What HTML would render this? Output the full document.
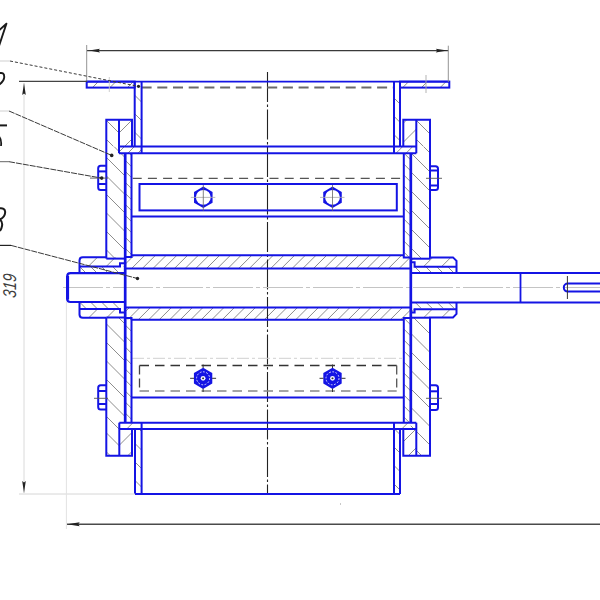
<!DOCTYPE html>
<html><head><meta charset="utf-8"><style>html,body{margin:0;padding:0;background:#fff;width:600px;height:600px;overflow:hidden}svg{display:block}</style></head>
<body><svg width="600" height="600" viewBox="0 0 600 600">
<defs><clipPath id="c1"><rect x="86.7" y="81.6" width="47.999999999999986" height="6.0"/></clipPath><clipPath id="c2"><rect x="400" y="81.6" width="49.30000000000001" height="6.0"/></clipPath><clipPath id="c3"><rect x="134.7" y="87.6" width="6.900000000000006" height="58.900000000000006"/></clipPath><clipPath id="c4"><rect x="394" y="87.6" width="6" height="58.80000000000001"/></clipPath><clipPath id="c5"><rect x="106.3" y="119.8" width="12.700000000000003" height="26.700000000000003"/></clipPath><clipPath id="c6"><rect x="119" y="119.8" width="13" height="26.700000000000003"/></clipPath><clipPath id="c7"><rect x="403.3" y="119.7" width="13.0" height="26.700000000000003"/></clipPath><clipPath id="c8"><rect x="416.3" y="119.7" width="13.699999999999989" height="26.700000000000003"/></clipPath><clipPath id="c9"><rect x="119" y="146.5" width="23" height="6.800000000000011"/></clipPath><clipPath id="c10"><rect x="394" y="146.5" width="22.30000000000001" height="6.800000000000011"/></clipPath><clipPath id="c11"><rect x="106.3" y="146.5" width="18.900000000000006" height="112.10000000000002"/></clipPath><clipPath id="c12"><rect x="125.2" y="153.3" width="6.299999999999997" height="103.69999999999999"/></clipPath><clipPath id="c13"><rect x="403.8" y="153" width="7.0" height="104.60000000000002"/></clipPath><clipPath id="c14"><rect x="416.3" y="146.4" width="13.699999999999989" height="6.900000000000006"/></clipPath><clipPath id="c15"><rect x="410.8" y="153.3" width="19.19999999999999" height="105.39999999999998"/></clipPath><clipPath id="c16"><rect x="126" y="255.3" width="284.8" height="13.099999999999966"/></clipPath><clipPath id="c17"><rect x="126" y="307.4" width="284.8" height="12.300000000000011"/></clipPath><clipPath id="c18"><rect x="79.5" y="257.2" width="45.7" height="9.300000000000011"/></clipPath><clipPath id="c19"><rect x="79.5" y="266.5" width="45.7" height="6.699999999999989"/></clipPath><clipPath id="c20"><rect x="79.5" y="302" width="45.7" height="7"/></clipPath><clipPath id="c21"><rect x="79.5" y="309" width="45.7" height="8.699999999999989"/></clipPath><clipPath id="c22"><rect x="410.8" y="257.4" width="45.69999999999999" height="9.400000000000034"/></clipPath><clipPath id="c23"><rect x="410.8" y="266.8" width="45.69999999999999" height="6.199999999999989"/></clipPath><clipPath id="c24"><rect x="410.8" y="302" width="45.69999999999999" height="6.600000000000023"/></clipPath><clipPath id="c25"><rect x="410.8" y="308.6" width="45.69999999999999" height="9.099999999999966"/></clipPath><clipPath id="c26"><rect x="106.3" y="317.5" width="18.900000000000006" height="111.5"/></clipPath><clipPath id="c27"><rect x="125.2" y="318" width="6.299999999999997" height="104.69999999999999"/></clipPath><clipPath id="c28"><rect x="403.8" y="318" width="7.0" height="104.69999999999999"/></clipPath><clipPath id="c29"><rect x="410.8" y="317.7" width="19.19999999999999" height="111.30000000000001"/></clipPath><clipPath id="c30"><rect x="119" y="422.7" width="23" height="6.300000000000011"/></clipPath><clipPath id="c31"><rect x="394" y="422.7" width="22.30000000000001" height="6.300000000000011"/></clipPath><clipPath id="c32"><rect x="106.3" y="429" width="13.0" height="26.69999999999999"/></clipPath><clipPath id="c33"><rect x="119.3" y="429" width="12.700000000000003" height="26.69999999999999"/></clipPath><clipPath id="c34"><rect x="403.3" y="429" width="13.0" height="26.69999999999999"/></clipPath><clipPath id="c35"><rect x="416.3" y="429" width="13.699999999999989" height="26.69999999999999"/></clipPath><clipPath id="c36"><rect x="135" y="429" width="6.599999999999994" height="65"/></clipPath><clipPath id="c37"><rect x="394" y="429" width="6" height="65"/></clipPath></defs>
<rect width="600" height="600" fill="#fff"/>
<path clip-path="url(#c1)" d="M74.90,87.6L80.90,81.6M92.40,87.6L98.40,81.6M109.90,87.6L115.90,81.6M127.40,87.6L133.40,81.6" stroke="#707070" stroke-width="0.8" fill="none"/>
<path clip-path="url(#c2)" d="M384.00,87.6L390.00,81.6M402.70,87.6L408.70,81.6M421.40,87.6L427.40,81.6M440.10,87.6L446.10,81.6" stroke="#707070" stroke-width="0.8" fill="none"/>
<path clip-path="url(#c3)" d="M71.60,87.6L130.50,146.5M90.10,87.6L149.00,146.5M108.60,87.6L167.50,146.5M127.10,87.6L186.00,146.5M145.60,87.6L204.50,146.5M164.10,87.6L223.00,146.5M182.60,87.6L241.50,146.5" stroke="#707070" stroke-width="0.8" fill="none"/>
<path clip-path="url(#c4)" d="M328.70,87.6L387.50,146.4M347.00,87.6L405.80,146.4M365.30,87.6L424.10,146.4M383.60,87.6L442.40,146.4M401.90,87.6L460.70,146.4M420.20,87.6L479.00,146.4M438.50,87.6L497.30,146.4M456.80,87.6L515.60,146.4" stroke="#707070" stroke-width="0.8" fill="none"/>
<path clip-path="url(#c5)" d="M67.80,119.8L94.50,146.5M86.80,119.8L113.50,146.5M105.80,119.8L132.50,146.5M124.80,119.8L151.50,146.5M143.80,119.8L170.50,146.5" stroke="#707070" stroke-width="0.8" fill="none"/>
<path clip-path="url(#c6)" d="M86.50,146.5L113.20,119.8M105.50,146.5L132.20,119.8M124.50,146.5L151.20,119.8M143.50,146.5L170.20,119.8" stroke="#707070" stroke-width="0.8" fill="none"/>
<path clip-path="url(#c7)" d="M361.10,146.4L387.80,119.7M380.10,146.4L406.80,119.7M399.10,146.4L425.80,119.7M418.10,146.4L444.80,119.7M437.10,146.4L463.80,119.7" stroke="#707070" stroke-width="0.8" fill="none"/>
<path clip-path="url(#c8)" d="M377.70,119.7L404.40,146.4M396.70,119.7L423.40,146.4M415.70,119.7L442.40,146.4M434.70,119.7L461.40,146.4M453.70,119.7L480.40,146.4" stroke="#707070" stroke-width="0.8" fill="none"/>
<path clip-path="url(#c9)" d="M107.70,153.3L114.50,146.5M117.70,153.3L124.50,146.5M127.70,153.3L134.50,146.5M137.70,153.3L144.50,146.5M147.70,153.3L154.50,146.5" stroke="#707070" stroke-width="0.8" fill="none"/>
<path clip-path="url(#c10)" d="M385.95,153.3L392.75,146.5M395.95,153.3L402.75,146.5M405.95,153.3L412.75,146.5M415.95,153.3L422.75,146.5" stroke="#707070" stroke-width="0.8" fill="none"/>
<path clip-path="url(#c11)" d="M-15.50,146.5L96.60,258.6M3.00,146.5L115.10,258.6M21.50,146.5L133.60,258.6M40.00,146.5L152.10,258.6M58.50,146.5L170.60,258.6M77.00,146.5L189.10,258.6M95.50,146.5L207.60,258.6M114.00,146.5L226.10,258.6M132.50,146.5L244.60,258.6M151.00,146.5L263.10,258.6M169.50,146.5L281.60,258.6M188.00,146.5L300.10,258.6M206.50,146.5L318.60,258.6M225.00,146.5L337.10,258.6" stroke="#707070" stroke-width="0.8" fill="none"/>
<path clip-path="url(#c12)" d="M19.20,153.3L122.90,257M30.20,153.3L133.90,257M41.20,153.3L144.90,257M52.20,153.3L155.90,257M63.20,153.3L166.90,257M74.20,153.3L177.90,257M85.20,153.3L188.90,257M96.20,153.3L199.90,257M107.20,153.3L210.90,257M118.20,153.3L221.90,257M129.20,153.3L232.90,257M140.20,153.3L243.90,257M151.20,153.3L254.90,257M162.20,153.3L265.90,257M173.20,153.3L276.90,257M184.20,153.3L287.90,257M195.20,153.3L298.90,257M206.20,153.3L309.90,257M217.20,153.3L320.90,257M228.20,153.3L331.90,257" stroke="#707070" stroke-width="0.8" fill="none"/>
<path clip-path="url(#c13)" d="M293.80,153L398.40,257.6M304.80,153L409.40,257.6M315.80,153L420.40,257.6M326.80,153L431.40,257.6M337.80,153L442.40,257.6M348.80,153L453.40,257.6M359.80,153L464.40,257.6M370.80,153L475.40,257.6M381.80,153L486.40,257.6M392.80,153L497.40,257.6M403.80,153L508.40,257.6M414.80,153L519.40,257.6M425.80,153L530.40,257.6M436.80,153L541.40,257.6M447.80,153L552.40,257.6M458.80,153L563.40,257.6M469.80,153L574.40,257.6M480.80,153L585.40,257.6M491.80,153L596.40,257.6M502.80,153L607.40,257.6M513.80,153L618.40,257.6" stroke="#707070" stroke-width="0.8" fill="none"/>
<path clip-path="url(#c14)" d="M404.40,146.4L411.30,153.3M423.40,146.4L430.30,153.3" stroke="#707070" stroke-width="0.8" fill="none"/>
<path clip-path="url(#c15)" d="M297.30,153.3L402.70,258.7M316.30,153.3L421.70,258.7M335.30,153.3L440.70,258.7M354.30,153.3L459.70,258.7M373.30,153.3L478.70,258.7M392.30,153.3L497.70,258.7M411.30,153.3L516.70,258.7M430.30,153.3L535.70,258.7M449.30,153.3L554.70,258.7M468.30,153.3L573.70,258.7M487.30,153.3L592.70,258.7M506.30,153.3L611.70,258.7M525.30,153.3L630.70,258.7" stroke="#707070" stroke-width="0.8" fill="none"/>
<path clip-path="url(#c16)" d="M110.30,268.4L123.40,255.3M121.00,268.4L134.10,255.3M131.70,268.4L144.80,255.3M142.40,268.4L155.50,255.3M153.10,268.4L166.20,255.3M163.80,268.4L176.90,255.3M174.50,268.4L187.60,255.3M185.20,268.4L198.30,255.3M195.90,268.4L209.00,255.3M206.60,268.4L219.70,255.3M217.30,268.4L230.40,255.3M228.00,268.4L241.10,255.3M238.70,268.4L251.80,255.3M249.40,268.4L262.50,255.3M260.10,268.4L273.20,255.3M270.80,268.4L283.90,255.3M281.50,268.4L294.60,255.3M292.20,268.4L305.30,255.3M302.90,268.4L316.00,255.3M313.60,268.4L326.70,255.3M324.30,268.4L337.40,255.3M335.00,268.4L348.10,255.3M345.70,268.4L358.80,255.3M356.40,268.4L369.50,255.3M367.10,268.4L380.20,255.3M377.80,268.4L390.90,255.3M388.50,268.4L401.60,255.3M399.20,268.4L412.30,255.3M409.90,268.4L423.00,255.3M420.60,268.4L433.70,255.3" stroke="#707070" stroke-width="0.8" fill="none"/>
<path clip-path="url(#c17)" d="M106.75,319.7L119.05,307.4M117.25,319.7L129.55,307.4M127.75,319.7L140.05,307.4M138.25,319.7L150.55,307.4M148.75,319.7L161.05,307.4M159.25,319.7L171.55,307.4M169.75,319.7L182.05,307.4M180.25,319.7L192.55,307.4M190.75,319.7L203.05,307.4M201.25,319.7L213.55,307.4M211.75,319.7L224.05,307.4M222.25,319.7L234.55,307.4M232.75,319.7L245.05,307.4M243.25,319.7L255.55,307.4M253.75,319.7L266.05,307.4M264.25,319.7L276.55,307.4M274.75,319.7L287.05,307.4M285.25,319.7L297.55,307.4M295.75,319.7L308.05,307.4M306.25,319.7L318.55,307.4M316.75,319.7L329.05,307.4M327.25,319.7L339.55,307.4M337.75,319.7L350.05,307.4M348.25,319.7L360.55,307.4M358.75,319.7L371.05,307.4M369.25,319.7L381.55,307.4M379.75,319.7L392.05,307.4M390.25,319.7L402.55,307.4M400.75,319.7L413.05,307.4M411.25,319.7L423.55,307.4M421.75,319.7L434.05,307.4" stroke="#707070" stroke-width="0.8" fill="none"/>
<path clip-path="url(#c18)" d="M70.20,266.5L79.50,257.2M88.20,266.5L97.50,257.2M106.20,266.5L115.50,257.2M124.20,266.5L133.50,257.2" stroke="#707070" stroke-width="0.8" fill="none"/>
<path clip-path="url(#c19)" d="M68.50,266.5L75.20,273.2M79.50,266.5L86.20,273.2M90.50,266.5L97.20,273.2M101.50,266.5L108.20,273.2M112.50,266.5L119.20,273.2M123.50,266.5L130.20,273.2" stroke="#707070" stroke-width="0.8" fill="none"/>
<path clip-path="url(#c20)" d="M68.50,302L75.50,309M79.50,302L86.50,309M90.50,302L97.50,309M101.50,302L108.50,309M112.50,302L119.50,309M123.50,302L130.50,309" stroke="#707070" stroke-width="0.8" fill="none"/>
<path clip-path="url(#c21)" d="M70.80,317.7L79.50,309M88.80,317.7L97.50,309M106.80,317.7L115.50,309M124.80,317.7L133.50,309" stroke="#707070" stroke-width="0.8" fill="none"/>
<path clip-path="url(#c22)" d="M387.40,266.8L396.80,257.4M405.40,266.8L414.80,257.4M423.40,266.8L432.80,257.4M441.40,266.8L450.80,257.4M459.40,266.8L468.80,257.4" stroke="#707070" stroke-width="0.8" fill="none"/>
<path clip-path="url(#c23)" d="M403.80,266.8L410.00,273M414.80,266.8L421.00,273M425.80,266.8L432.00,273M436.80,266.8L443.00,273M447.80,266.8L454.00,273M458.80,266.8L465.00,273" stroke="#707070" stroke-width="0.8" fill="none"/>
<path clip-path="url(#c24)" d="M403.80,302L410.40,308.6M414.80,302L421.40,308.6M425.80,302L432.40,308.6M436.80,302L443.40,308.6M447.80,302L454.40,308.6M458.80,302L465.40,308.6" stroke="#707070" stroke-width="0.8" fill="none"/>
<path clip-path="url(#c25)" d="M387.70,317.7L396.80,308.6M405.70,317.7L414.80,308.6M423.70,317.7L432.80,308.6M441.70,317.7L450.80,308.6M459.70,317.7L468.80,308.6" stroke="#707070" stroke-width="0.8" fill="none"/>
<path clip-path="url(#c26)" d="M-11.00,317.5L100.50,429M7.50,317.5L119.00,429M26.00,317.5L137.50,429M44.50,317.5L156.00,429M63.00,317.5L174.50,429M81.50,317.5L193.00,429M100.00,317.5L211.50,429M118.50,317.5L230.00,429M137.00,317.5L248.50,429M155.50,317.5L267.00,429M174.00,317.5L285.50,429M192.50,317.5L304.00,429M211.00,317.5L322.50,429M229.50,317.5L341.00,429" stroke="#707070" stroke-width="0.8" fill="none"/>
<path clip-path="url(#c27)" d="M19.20,318L123.90,422.7M30.20,318L134.90,422.7M41.20,318L145.90,422.7M52.20,318L156.90,422.7M63.20,318L167.90,422.7M74.20,318L178.90,422.7M85.20,318L189.90,422.7M96.20,318L200.90,422.7M107.20,318L211.90,422.7M118.20,318L222.90,422.7M129.20,318L233.90,422.7M140.20,318L244.90,422.7M151.20,318L255.90,422.7M162.20,318L266.90,422.7M173.20,318L277.90,422.7M184.20,318L288.90,422.7M195.20,318L299.90,422.7M206.20,318L310.90,422.7M217.20,318L321.90,422.7M228.20,318L332.90,422.7" stroke="#707070" stroke-width="0.8" fill="none"/>
<path clip-path="url(#c28)" d="M293.80,318L398.50,422.7M304.80,318L409.50,422.7M315.80,318L420.50,422.7M326.80,318L431.50,422.7M337.80,318L442.50,422.7M348.80,318L453.50,422.7M359.80,318L464.50,422.7M370.80,318L475.50,422.7M381.80,318L486.50,422.7M392.80,318L497.50,422.7M403.80,318L508.50,422.7M414.80,318L519.50,422.7M425.80,318L530.50,422.7M436.80,318L541.50,422.7M447.80,318L552.50,422.7M458.80,318L563.50,422.7M469.80,318L574.50,422.7M480.80,318L585.50,422.7M491.80,318L596.50,422.7M502.80,318L607.50,422.7M513.80,318L618.50,422.7" stroke="#707070" stroke-width="0.8" fill="none"/>
<path clip-path="url(#c29)" d="M284.20,317.7L395.50,429M302.70,317.7L414.00,429M321.20,317.7L432.50,429M339.70,317.7L451.00,429M358.20,317.7L469.50,429M376.70,317.7L488.00,429M395.20,317.7L506.50,429M413.70,317.7L525.00,429M432.20,317.7L543.50,429M450.70,317.7L562.00,429M469.20,317.7L580.50,429M487.70,317.7L599.00,429M506.20,317.7L617.50,429M524.70,317.7L636.00,429" stroke="#707070" stroke-width="0.8" fill="none"/>
<path clip-path="url(#c30)" d="M98.70,429L105.00,422.7M112.70,429L119.00,422.7M126.70,429L133.00,422.7M140.70,429L147.00,422.7" stroke="#707070" stroke-width="0.8" fill="none"/>
<path clip-path="url(#c31)" d="M373.70,429L380.00,422.7M387.70,429L394.00,422.7M401.70,429L408.00,422.7M415.70,429L422.00,422.7" stroke="#707070" stroke-width="0.8" fill="none"/>
<path clip-path="url(#c32)" d="M64.50,429L91.20,455.7M83.50,429L110.20,455.7M102.50,429L129.20,455.7M121.50,429L148.20,455.7M140.50,429L167.20,455.7" stroke="#707070" stroke-width="0.8" fill="none"/>
<path clip-path="url(#c33)" d="M89.80,455.7L116.50,429M108.80,455.7L135.50,429M127.80,455.7L154.50,429M146.80,455.7L173.50,429" stroke="#707070" stroke-width="0.8" fill="none"/>
<path clip-path="url(#c34)" d="M370.30,455.7L397.00,429M389.30,455.7L416.00,429M408.30,455.7L435.00,429M427.30,455.7L454.00,429" stroke="#707070" stroke-width="0.8" fill="none"/>
<path clip-path="url(#c35)" d="M376.00,429L402.70,455.7M395.00,429L421.70,455.7M414.00,429L440.70,455.7M433.00,429L459.70,455.7M452.00,429L478.70,455.7" stroke="#707070" stroke-width="0.8" fill="none"/>
<path clip-path="url(#c36)" d="M65.00,429L130.00,494M83.50,429L148.50,494M102.00,429L167.00,494M120.50,429L185.50,494M139.00,429L204.00,494M157.50,429L222.50,494M176.00,429L241.00,494M194.50,429L259.50,494" stroke="#707070" stroke-width="0.8" fill="none"/>
<path clip-path="url(#c37)" d="M320.50,429L385.50,494M339.00,429L404.00,494M357.50,429L422.50,494M376.00,429L441.00,494M394.50,429L459.50,494M413.00,429L478.00,494M431.50,429L496.50,494M450.00,429L515.00,494" stroke="#707070" stroke-width="0.8" fill="none"/>
<line x1="267.5" y1="72" x2="267.5" y2="494" stroke="#222" stroke-width="1.1" stroke-dasharray="30 2.5 2.5 2.5"/>
<line x1="63" y1="287.5" x2="600" y2="287.5" stroke="#c4c4c4" stroke-width="1" stroke-dasharray="40 3 4 3"/>
<line x1="132.7" y1="178.4" x2="403" y2="178.4" stroke="#555" stroke-width="1.3" stroke-dasharray="9 6.2"/>
<line x1="132" y1="358.3" x2="404" y2="358.3" stroke="#d0d0d0" stroke-width="1" stroke-dasharray="12 3 3 3"/>
<line x1="141.6" y1="87.5" x2="394" y2="87.5" stroke="#6a6a6a" stroke-width="1.8" stroke-dasharray="10 5.7"/>
<line x1="139.5" y1="365.5" x2="396.7" y2="365.5" stroke="#333" stroke-width="1.4" stroke-dasharray="9.5 6"/>
<line x1="139.5" y1="391" x2="396.7" y2="391" stroke="#888" stroke-width="1.6" stroke-dasharray="9.5 6"/>
<line x1="139.5" y1="365.5" x2="139.5" y2="391" stroke="#444" stroke-width="1.3" stroke-dasharray="9 4"/>
<line x1="396.7" y1="365.5" x2="396.7" y2="391" stroke="#555" stroke-width="1.3" stroke-dasharray="9 4"/>
<line x1="86.7" y1="81.6" x2="449.3" y2="81.6" stroke="#1414e4" stroke-width="1.7" />
<rect x="86.7" y="81.6" width="47.999999999999986" height="6.0" rx="0" stroke="#1414e4" stroke-width="2" fill="none" />
<rect x="400" y="81.6" width="49.30000000000001" height="6.0" rx="0" stroke="#1414e4" stroke-width="2" fill="none" />
<line x1="134.7" y1="81.6" x2="134.7" y2="146.5" stroke="#1414e4" stroke-width="2" />
<line x1="141.6" y1="81.6" x2="141.6" y2="153.3" stroke="#1414e4" stroke-width="2" />
<line x1="394" y1="81.6" x2="394" y2="153.3" stroke="#1414e4" stroke-width="2" />
<line x1="400" y1="81.6" x2="400" y2="146.4" stroke="#1414e4" stroke-width="2" />
<path d="M106.3,258.6V119.8H132V146.5" stroke="#1414e4" stroke-width="2" fill="none" />
<line x1="119" y1="119.8" x2="119" y2="153.3" stroke="#1414e4" stroke-width="2" />
<line x1="119" y1="146.5" x2="416.3" y2="146.5" stroke="#1414e4" stroke-width="2" />
<line x1="119" y1="153.3" x2="416.3" y2="153.3" stroke="#1414e4" stroke-width="2" />
<line x1="125.2" y1="153.3" x2="125.2" y2="422.7" stroke="#1414e4" stroke-width="2.7" />
<path d="M131.5,153.3V257H125.2" stroke="#1414e4" stroke-width="2" fill="none" />
<line x1="106.3" y1="258.6" x2="125.2" y2="258.6" stroke="#1414e4" stroke-width="2" />
<path d="M430,258.7V119.7H403.3V146.4" stroke="#1414e4" stroke-width="2" fill="none" />
<line x1="416.3" y1="119.7" x2="416.3" y2="153.3" stroke="#1414e4" stroke-width="2" />
<line x1="410.8" y1="153.3" x2="410.8" y2="422.7" stroke="#1414e4" stroke-width="2.7" />
<path d="M403.8,153.3V257.6H410.8" stroke="#1414e4" stroke-width="2" fill="none" />
<line x1="410.8" y1="258.7" x2="430" y2="258.7" stroke="#1414e4" stroke-width="2" />
<line x1="131.5" y1="216.5" x2="403.8" y2="216.5" stroke="#1414e4" stroke-width="2" />
<rect x="139.5" y="184" width="257.3" height="26.400000000000006" rx="0" stroke="#1414e4" stroke-width="2" fill="none" />
<line x1="131.5" y1="255.3" x2="403.8" y2="255.3" stroke="#1414e4" stroke-width="2" />
<line x1="125.2" y1="268.4" x2="410.8" y2="268.4" stroke="#1414e4" stroke-width="2" />
<line x1="125.2" y1="307.4" x2="410.8" y2="307.4" stroke="#1414e4" stroke-width="2" />
<line x1="131.5" y1="319.7" x2="403.8" y2="319.7" stroke="#1414e4" stroke-width="2" />
<path d="M79.5,273.2V260.5Q79.5,257.2 82.8,257.2H106.3" stroke="#1414e4" stroke-width="2" fill="none" />
<path d="M80,266.5H120V263.2H125.2" stroke="#1414e4" stroke-width="2" fill="none" />
<path d="M79.5,302V314.5Q79.5,317.7 82.8,317.7H106.3" stroke="#1414e4" stroke-width="2" fill="none" />
<path d="M80,309H120V312.5H125.2" stroke="#1414e4" stroke-width="2" fill="none" />
<path d="M125.2,273.2H70.5Q67.2,273.2 67.2,276.5V298.7Q67.2,302 70.5,302H125.2" stroke="#1414e4" stroke-width="2.2" fill="none" />
<line x1="67.6" y1="276" x2="67.6" y2="299.5" stroke="#1414e4" stroke-width="3" />
<path d="M429.3,257.4H453L456.5,260.8V273" stroke="#1414e4" stroke-width="2" fill="none" />
<path d="M410.8,262.2H414.6V266.8H456.5" stroke="#1414e4" stroke-width="2" fill="none" />
<path d="M429.3,317.4H453L456.5,313.9V302.5" stroke="#1414e4" stroke-width="2" fill="none" />
<path d="M410.8,312.6H414.6V309.2H456.5" stroke="#1414e4" stroke-width="2" fill="none" />
<line x1="410.8" y1="273" x2="600" y2="273" stroke="#1414e4" stroke-width="2" />
<line x1="410.8" y1="302.5" x2="600" y2="302.5" stroke="#1414e4" stroke-width="2" />
<line x1="520.5" y1="273" x2="520.5" y2="302" stroke="#1414e4" stroke-width="1.8" />
<rect x="563.8" y="283.6" width="46.200000000000045" height="8.0" rx="4" stroke="#1414e4" stroke-width="2" fill="none" />
<line x1="567.4" y1="276" x2="567.4" y2="299" stroke="#333" stroke-width="1" />
<path d="M106.3,317.5V455.7H132V429" stroke="#1414e4" stroke-width="2" fill="none" />
<line x1="106.3" y1="317.5" x2="125.2" y2="317.5" stroke="#1414e4" stroke-width="2" />
<path d="M125.2,318H131.5V422.7" stroke="#1414e4" stroke-width="2" fill="none" />
<line x1="119.3" y1="422.7" x2="119.3" y2="455.7" stroke="#1414e4" stroke-width="2" />
<line x1="119.3" y1="422.7" x2="416.3" y2="422.7" stroke="#1414e4" stroke-width="2" />
<line x1="119.3" y1="429" x2="416.3" y2="429" stroke="#1414e4" stroke-width="2" />
<line x1="135" y1="429" x2="135" y2="494" stroke="#1414e4" stroke-width="2" />
<line x1="141.6" y1="422.7" x2="141.6" y2="494" stroke="#1414e4" stroke-width="2" />
<line x1="135" y1="494" x2="400" y2="494" stroke="#1414e4" stroke-width="2" />
<line x1="394" y1="422.7" x2="394" y2="494" stroke="#1414e4" stroke-width="2" />
<line x1="400" y1="429" x2="400" y2="494" stroke="#1414e4" stroke-width="2" />
<path d="M430,317.7V455.7H403.3V429" stroke="#1414e4" stroke-width="2" fill="none" />
<line x1="410.8" y1="317.7" x2="430" y2="317.7" stroke="#1414e4" stroke-width="2" />
<path d="M410.8,318H403.8V422.7" stroke="#1414e4" stroke-width="2" fill="none" />
<line x1="416.3" y1="422.7" x2="416.3" y2="455.7" stroke="#1414e4" stroke-width="2" />
<line x1="131.5" y1="397.5" x2="403.8" y2="397.5" stroke="#1414e4" stroke-width="2" />
<path d="M106.3,165.8H100.7Q98.2,165.8 98.2,168.3V187.5Q98.2,190 100.7,190H106.3" stroke="#1414e4" stroke-width="2" fill="none" />
<line x1="98.2" y1="171.4" x2="106.3" y2="171.4" stroke="#1414e4" stroke-width="2" />
<line x1="98.2" y1="184" x2="106.3" y2="184" stroke="#1414e4" stroke-width="2" />
<path d="M106.3,385.3H100.7Q98.2,385.3 98.2,387.8V407.1Q98.2,409.6 100.7,409.6H106.3" stroke="#1414e4" stroke-width="2" fill="none" />
<line x1="98.2" y1="391" x2="106.3" y2="391" stroke="#1414e4" stroke-width="2" />
<line x1="98.2" y1="404" x2="106.3" y2="404" stroke="#1414e4" stroke-width="2" />
<path d="M430,166.2H435.5Q438,166.2 438,168.7V187.5Q438,190 435.5,190H430" stroke="#1414e4" stroke-width="2" fill="none" />
<line x1="430" y1="170.5" x2="438" y2="170.5" stroke="#1414e4" stroke-width="2" />
<line x1="430" y1="185.5" x2="438" y2="185.5" stroke="#1414e4" stroke-width="2" />
<path d="M430,385.3H435.5Q438,385.3 438,387.8V407.5Q438,410 435.5,410H430" stroke="#1414e4" stroke-width="2" fill="none" />
<line x1="430" y1="391.3" x2="438" y2="391.3" stroke="#1414e4" stroke-width="2" />
<line x1="430" y1="404" x2="438" y2="404" stroke="#1414e4" stroke-width="2" />
<line x1="426" y1="178.3" x2="442" y2="178.3" stroke="#555" stroke-width="0.9" />
<line x1="90" y1="178.1" x2="108" y2="178.1" stroke="#555" stroke-width="0.9" />
<line x1="94" y1="398.3" x2="108" y2="398.3" stroke="#555" stroke-width="0.9" />
<line x1="426" y1="398.3" x2="442" y2="398.3" stroke="#555" stroke-width="0.9" />
<polygon points="203.30,186.60 194.03,191.95 194.03,202.65 203.30,208.00 212.57,202.65 212.57,191.95" fill="#1414e4"/>
<circle cx="203.3" cy="197.3" r="7.4" fill="#fff"/>
<line x1="190.8" y1="197.4" x2="215.3" y2="197.4" stroke="#aaa" stroke-width="0.8" />
<line x1="203.3" y1="185" x2="203.3" y2="210.8" stroke="#666" stroke-width="0.8" />
<polygon points="332.50,186.60 323.23,191.95 323.23,202.65 332.50,208.00 341.77,202.65 341.77,191.95" fill="#1414e4"/>
<circle cx="332.5" cy="197.3" r="7.4" fill="#fff"/>
<line x1="320.0" y1="197.4" x2="344.5" y2="197.4" stroke="#aaa" stroke-width="0.8" />
<line x1="332.5" y1="185" x2="332.5" y2="210.8" stroke="#666" stroke-width="0.8" />
<polygon points="203.10,367.70 193.92,373.00 193.92,383.60 203.10,388.90 212.28,383.60 212.28,373.00" fill="#1414e4"/>
<circle cx="203.1" cy="378.3" r="6.5" stroke="#d8d8ff" stroke-width="1" fill="none" stroke-dasharray="1.8 1.5"/>
<circle cx="203.1" cy="378.3" r="2.4" fill="#f4f4ff"/>
<circle cx="203.1" cy="378.3" r="0.9" fill="#333"/>
<line x1="190.1" y1="378.3" x2="194.1" y2="378.3" stroke="#333" stroke-width="1" />
<line x1="212.1" y1="378.3" x2="216.1" y2="378.3" stroke="#333" stroke-width="1" />
<line x1="203.1" y1="364.5" x2="203.1" y2="368" stroke="#333" stroke-width="1" />
<line x1="203.1" y1="388.5" x2="203.1" y2="392" stroke="#333" stroke-width="1" />
<line x1="202.29999999999998" y1="378.3" x2="203.9" y2="378.3" stroke="#333" stroke-width="0.8" />
<polygon points="332.50,367.70 323.32,373.00 323.32,383.60 332.50,388.90 341.68,383.60 341.68,373.00" fill="#1414e4"/>
<circle cx="332.5" cy="378.3" r="6.5" stroke="#d8d8ff" stroke-width="1" fill="none" stroke-dasharray="1.8 1.5"/>
<circle cx="332.5" cy="378.3" r="2.4" fill="#f4f4ff"/>
<circle cx="332.5" cy="378.3" r="0.9" fill="#333"/>
<line x1="319.5" y1="378.3" x2="323.5" y2="378.3" stroke="#333" stroke-width="1" />
<line x1="341.5" y1="378.3" x2="345.5" y2="378.3" stroke="#333" stroke-width="1" />
<line x1="332.5" y1="364.5" x2="332.5" y2="368" stroke="#333" stroke-width="1" />
<line x1="332.5" y1="388.5" x2="332.5" y2="392" stroke="#333" stroke-width="1" />
<line x1="331.7" y1="378.3" x2="333.3" y2="378.3" stroke="#333" stroke-width="0.8" />
<line x1="87" y1="50.6" x2="448.3" y2="50.6" stroke="#3a3a3a" stroke-width="1.1" />
<path d="M89,50.6L100.00,48.70L98.50,50.60L100.00,52.50Z" fill="#222"/>
<path d="M447.3,50.6L435.80,52.50L437.30,50.60L435.80,48.70Z" fill="#222"/>
<line x1="86.7" y1="45" x2="86.7" y2="82" stroke="#888" stroke-width="0.9" />
<line x1="448.3" y1="45.7" x2="448.3" y2="82" stroke="#888" stroke-width="0.9" />
<line x1="19" y1="81.3" x2="87" y2="81.3" stroke="#444" stroke-width="1.3" />
<line x1="24" y1="83" x2="24" y2="493" stroke="#dadada" stroke-width="1" />
<path d="M24,83L25.80,95.00L24.00,93.50L22.20,95.00Z" fill="#222"/>
<path d="M24,493L22.20,481.00L24.00,482.50L25.80,481.00Z" fill="#222"/>
<line x1="19" y1="494" x2="135" y2="494" stroke="#d6d6d6" stroke-width="1" />
<line x1="66.4" y1="302" x2="66.4" y2="529" stroke="#e2e2e2" stroke-width="1" />
<line x1="67" y1="524.2" x2="600" y2="524.2" stroke="#4a4a4a" stroke-width="1.5" />
<path d="M67.2,524.2L79.70,522.20L78.20,524.20L79.70,526.20Z" fill="#222"/>
<line x1="109.3" y1="77" x2="109.3" y2="92" stroke="#c8c8c8" stroke-width="0.9" />
<line x1="426" y1="75" x2="426" y2="93" stroke="#aaa" stroke-width="0.9" />
<line x1="0" y1="61" x2="10" y2="61" stroke="#cfcfcf" stroke-width="1" />
<line x1="10" y1="61" x2="139" y2="86.5" stroke="#3a3a3a" stroke-width="1" stroke-dasharray="3 2"/>
<circle cx="138.5" cy="86.3" r="1.6" fill="#222"/>
<line x1="0" y1="111" x2="9" y2="111" stroke="#d0d0d0" stroke-width="1" />
<line x1="9" y1="111" x2="111.7" y2="155.4" stroke="#3a3a3a" stroke-width="1" stroke-dasharray="6 1"/>
<circle cx="111.7" cy="155.4" r="1.8" fill="#222"/>
<line x1="0" y1="161.7" x2="9" y2="161.7" stroke="#666" stroke-width="1" />
<line x1="9" y1="161.7" x2="101.7" y2="178.1" stroke="#3a3a3a" stroke-width="1" stroke-dasharray="6 1"/>
<circle cx="101.7" cy="178.1" r="1.8" fill="#222"/>
<line x1="0" y1="245.4" x2="11" y2="245.4" stroke="#222" stroke-width="1.2" />
<line x1="11" y1="245.4" x2="137.5" y2="278.5" stroke="#3a3a3a" stroke-width="1" stroke-dasharray="6 1"/>
<circle cx="137.5" cy="278.5" r="1.7" fill="#222"/>
<line x1="340" y1="504" x2="340.8" y2="504" stroke="#777" stroke-width="1" />
<path d="M-1,46L6.4,23.7L-1,30.5" stroke="#1a1a1a" stroke-width="1.9" fill="none" stroke-linejoin="round"/>
<path d="M-1,73.3Q4.6,71.8 4.2,77.5Q3.8,81.5 -1,84.8" stroke="#1a1a1a" stroke-width="1.9" fill="none" />
<line x1="-1" y1="125.4" x2="7" y2="125.4" stroke="#1a1a1a" stroke-width="2" />
<path d="M-1,136.5Q1.8,139.5 1,146" stroke="#1a1a1a" stroke-width="1.8" fill="none" />
<path d="M-1,208.5Q5,207.5 5.2,212Q5,217 0,219.5Q2.8,222 2,226Q1.5,229 0,231" stroke="#1a1a1a" stroke-width="2" fill="none" />
<text x="0" y="0" transform="translate(16.4,286.3) rotate(-90) scale(0.78,1) skewX(-7)" font-family="Liberation Sans, sans-serif" font-style="italic" font-size="18.5" fill="#3c3c3c" text-anchor="middle">319</text>
</svg></body></html>
